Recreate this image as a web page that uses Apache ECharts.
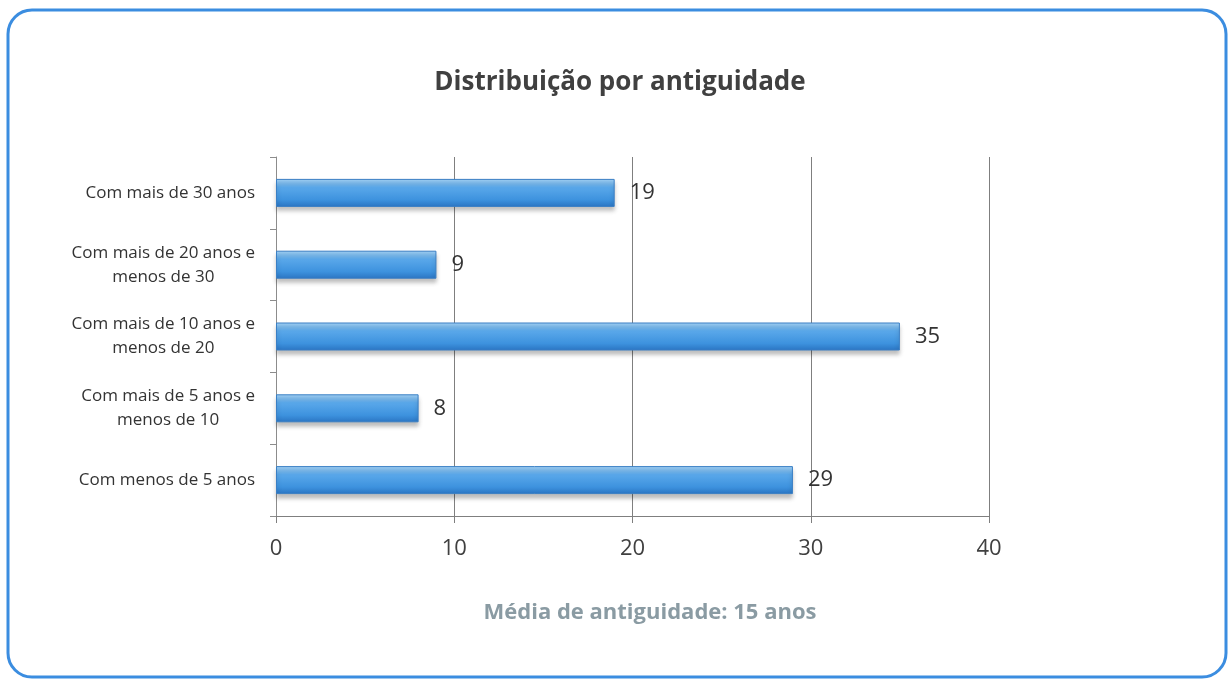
<!DOCTYPE html>
<html>
<head>
<meta charset="utf-8">
<script src="https://cdn.jsdelivr.net/npm/echarts@6/dist/echarts.min.js"></script>
<style>
  html, body { margin: 0; padding: 0; background: #fff; }
  #chart { width: 1230px; height: 680px; }
</style>
</head>
<body>
<div id="chart"></div>
<script>
// categorias (de baixo para cima, como no eixo)
const categorias = [
  'Com menos de 5 anos',
  'Com mais de 5 anos e\nmenos de 10',
  'Com mais de 10 anos e\nmenos de 20',
  'Com mais de 20 anos e\nmenos de 30',
  'Com mais de 30 anos'
]
const valores = [29, 8, 35, 9, 19]
const titulo = 'Distribuição por antiguidade'
const subtitulo = 'Média de antiguidade: 15 anos'

const chart = echarts.init(document.getElementById('chart'))

const option = {
  backgroundColor: '#fff',
  animation: false,
  graphic: [
    {
      type: 'rect',
      shape: { x: 8, y: 10, width: 1218, height: 667, r: 24 },
      style: { fill: 'none', stroke: '#3b8de0', lineWidth: 3 },
      z: 0
    },
    {
      type: 'text',
      x: 620,
      y: 83,
      style: {
        text: titulo,
        align: 'center',
        verticalAlign: 'middle',
        font: 'bold 26px "Open Sans", sans-serif',
        fill: '#404040'
      }
    },
    {
      type: 'text',
      x: 650,
      y: 613,
      style: {
        text: subtitulo,
        align: 'center',
        verticalAlign: 'middle',
        font: 'bold 22px "Open Sans", sans-serif',
        fill: '#8a9ba3'
      }
    }
  ],
  grid: {
    left: 276,
    right: 241,
    top: 157,
    bottom: 164
  },
  xAxis: {
    type: 'value',
    min: 0,
    max: 40,
    interval: 10,
    axisLine: { show: true, lineStyle: { color: '#7f7f7f', width: 1 } },
    axisTick: { show: true, length: 7, lineStyle: { color: '#7f7f7f' } },
    axisLabel: {
      margin: 22,
      color: '#404040',
      fontSize: 22,
      fontFamily: '"Open Sans", sans-serif'
    },
    splitLine: { show: true, lineStyle: { color: '#7f7f7f', width: 1 } }
  },
  yAxis: {
    type: 'category',
    data: categorias,
    axisLine: { show: true, lineStyle: { color: '#8c8c8c' } },
    axisTick: { show: true, length: 6, lineStyle: { color: '#8c8c8c' } },
    axisLabel: {
      margin: 21,
      align: 'right',
      formatter: function (value) {
        // cada linha centrada dentro do bloco do rótulo
        return value.split('\n').map(l => '{c|' + l + '}').join('\n')
      },
      rich: {
        c: {
          align: 'center',
          color: '#333',
          fontSize: 17,
          lineHeight: 24,
          fontFamily: '"Open Sans", sans-serif'
        }
      }
    }
  },
  series: [
    {
      type: 'bar',
      data: valores,
      barWidth: 28,
      itemStyle: {
        color: new echarts.graphic.LinearGradient(0, 0, 0, 1, [
          { offset: 0, color: '#a4d2f5' },
          { offset: 0.3, color: '#5aa8ea' },
          { offset: 0.75, color: '#3d92de' },
          { offset: 1, color: '#2a74c2' }
        ]),
        borderColor: '#3a7fc4',
        borderWidth: 1,
        shadowColor: 'rgba(0,0,0,0.25)',
        shadowBlur: 4,
        shadowOffsetY: 4
      },
      label: {
        show: true,
        position: 'right',
        distance: 15,
        color: '#333',
        fontSize: 22,
        fontFamily: '"Open Sans", sans-serif'
      }
    }
  ]
}

chart.setOption(option)
</script>
</body>
</html>
